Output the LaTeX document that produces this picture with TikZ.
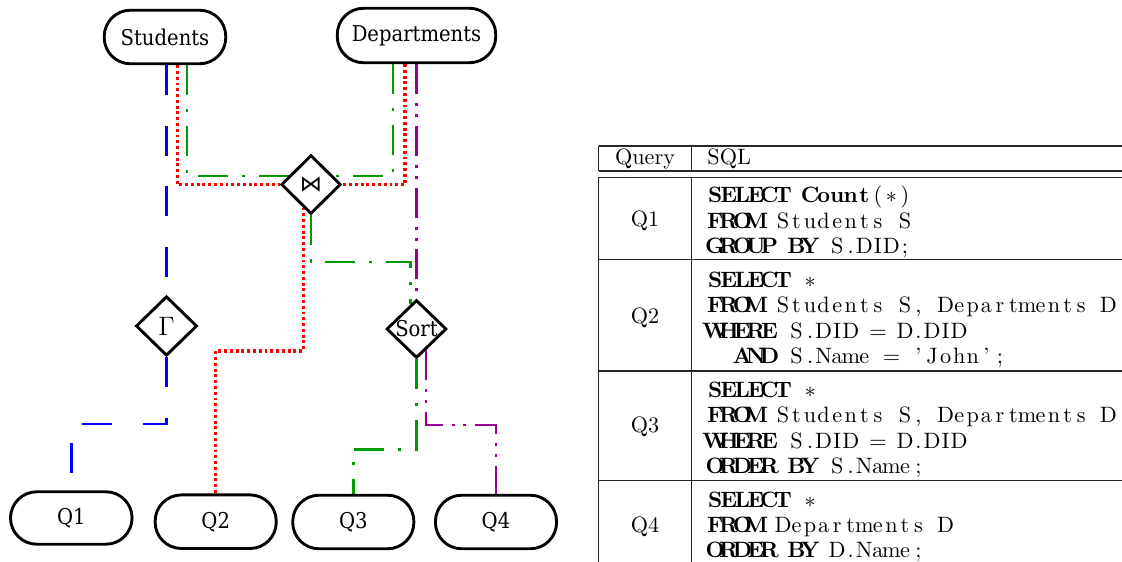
\documentclass[tikz,border=0pt]{standalone}
\usepackage{fontspec}
\newfontfamily\nodeserif{DejaVu Serif Condensed}
\newfontfamily\djsans{DejaVu Sans}
\usetikzlibrary{shapes.geometric,backgrounds}
\definecolor{jgreen}{RGB}{0,155,0}
\definecolor{jpurple}{RGB}{150,0,150}

% fixed-column code setting: every character sits centred in a box of width \cw
\newlength\cw
\setlength\cw{6.1pt}
\makeatletter
\def\fx@end{\fx@end}
\newcommand\fx[1]{\fx@loop#1\fx@end}
\def\fx@loop#1{\ifx#1\fx@end\else\makebox[\cw][c]{#1}\expandafter\fx@loop\fi}
\makeatother
\newcommand\kw[1]{{\bfseries\fx{#1}}}
\newcommand\as{\ensuremath{\ast}}

\begin{document}
\begin{tikzpicture}[x=0.45pt,y=-0.45pt,
  relnode/.style={draw, line width=1.3pt, fill=white, rounded corners=11.8pt, inner sep=0pt,
    font=\nodeserif\fontsize{9.8}{12}\selectfont},
  opnode/.style={draw, diamond, aspect=1, line width=1.3pt, fill=white, inner sep=0pt},
  conn/.style={line width=1.3pt},
  qblue/.style={conn, blue, dash pattern=on 13.5pt off 13.7pt},
  qred/.style={conn, line width=1.4pt, red, dash pattern=on 1.3pt off 1.3pt},
  qgreen/.style={conn, jgreen, dash pattern=on 13.5pt off 6.3pt on 1.35pt off 6.3pt},
  qpurple/.style={conn, jpurple, dash pattern=on 13.5pt off 4pt on 1.35pt off 3.6pt on 1.35pt off 4pt},
  tabrule/.style={line width=0.6pt, black!85},
  code/.style={anchor=base west, inner sep=0pt, font=\fontsize{10}{12}\selectfont},
  cell/.style={anchor=base, inner sep=0pt, font=\fontsize{10}{12}\selectfont},
]
\useasboundingbox (0,0) rectangle (1122,562);
\clip (0,0) rectangle (1122,562);

% ---------- query plan ----------
\node[relnode, minimum width=54.7pt, minimum height=24.1pt] (students) at (165,37) {Students};
\node[relnode, minimum width=71.3pt, minimum height=24.5pt] (depts) at (416.5,35.5) {Departments};

\node[opnode, minimum width=26.8pt, minimum height=26.5pt] (join) at (311,184.5) {\djsans ⋈};
\node[opnode, minimum width=27.5pt, minimum height=26.8pt] (gamma) at (166.5,326) {\fontsize{13}{15}\selectfont$\Gamma$};
\node[opnode, minimum width=27pt, minimum height=26.1pt,
  label={[font=\nodeserif\fontsize{9.8}{12}\selectfont]center:Sort}] (sort) at (416.5,329) {};

\node[relnode, minimum width=54.7pt, minimum height=23.6pt] (q1) at (71.3,518) {Q1};
\node[relnode, minimum width=54.5pt, minimum height=24.1pt] (q2) at (215.7,521.7) {Q2};
\node[relnode, minimum width=54.5pt, minimum height=24.1pt] (q3) at (353.3,522) {Q3};
\node[relnode, minimum width=54.5pt, minimum height=24.1pt] (q4) at (496,522) {Q4};

% bend levels of the routed connectors
\coordinate (gs) at (0,262);
\coordinate (rq2) at (0,351);
\coordinate (bq1) at (0,424);
\coordinate (pq4) at (0,425);
\coordinate (gq3) at (0,449.3);

\begin{scope}[on background layer]
  % Q1: Students -> Gamma -> Q1
  \draw[qblue] (students.south -| gamma.north) -- (gamma.north);
  \draw[qblue] (gamma.south) |- (bq1 -| q1.north) -- (q1.north);
  % Q2: join -> Q2
  \draw[qred] ([xshift=5.5pt]students.south) |- (join.west);
  \draw[qred] ([xshift=-5.2pt]depts.south) |- (join.east);
  \draw[qred] (join.-109) |- (rq2 -| q2.north) -- (q2.north);
  % Q3: join -> sort -> Q3
  \draw[qgreen] ([xshift=9.9pt]students.south) |- ([yshift=3.8pt]join.center);
  \draw[qgreen] ([xshift=-10.6pt]depts.south) |- ([yshift=3.8pt]join.center);
  \draw[qgreen] (join.south) |- (gs -| sort.103) -- (sort.103);
  \draw[qgreen] (sort.south) |- (gq3 -| q3.north) -- (q3.north);
  % Q4: Departments -> sort -> Q4
  \draw[qpurple] (depts.south) -- (sort.north);
  \draw[qpurple] (sort.-66) |- (pq4 -| q4.north) -- (q4.north);
\end{scope}

% ---------- query table ----------
\draw[tabrule] (598.5,146) -- (1135,146);
\draw[tabrule] (598.5,171) -- (1135,171);
\draw[tabrule] (598.5,177.3) -- (1135,177.3);
\draw[tabrule] (598.5,259.5) -- (1135,259.5);
\draw[tabrule] (598.5,371) -- (1135,371);
\draw[tabrule] (598.5,480.5) -- (1135,480.5);
\draw[tabrule] (598.5,146) -- (598.5,171);
\draw[tabrule] (598.5,177.3) -- (598.5,570);
\draw[tabrule] (691.5,146) -- (691.5,171);
\draw[tabrule] (691.5,177.3) -- (691.5,570);

\node[cell] (hq) at (645,165) {Query};
\node[code] (hs) at (707,165) {SQL};

\node[cell] (r1) at (645,226.5) {Q1};
\node[code] (c11) at (708,203) {\kw{SELECT}\fx{~}\kw{Count}\fx{(\as)}};
\node[code] (c12) at (708,228.5) {\kw{FROM}\fx{~Students~S}};
\node[code] (c13) at (708,254) {\kw{GROUP}\fx{~}\kw{BY}\fx{~S.DID;}};

\node[cell] (r2) at (645,323.5) {Q2};
\node[code] (c21) at (708,287.5) {\kw{SELECT}\fx{~\as}};
\node[code] (c22) at (708,312.8) {\kw{FROM}\fx{~Students~S,~Departments~D}};
\node[code] (c23) at (708,338.1) {\kw{WHERE}\fx{~S.DID~=~D.DID}};
\node[code] (c24) at (708,363.4) {\fx{~~}\kw{AND}\fx{~S.Name~=~'John';}};

\node[cell] (r3) at (645,432.5) {Q3};
\node[code] (c31) at (708,397.5) {\kw{SELECT}\fx{~\as}};
\node[code] (c32) at (708,422.8) {\kw{FROM}\fx{~Students~S,~Departments~D}};
\node[code] (c33) at (708,448.1) {\kw{WHERE}\fx{~S.DID~=~D.DID}};
\node[code] (c34) at (708,473.4) {\kw{ORDER}\fx{~}\kw{BY}\fx{~S.Name;}};

\node[cell] (r4) at (645,532.5) {Q4};
\node[code] (c41) at (708,507) {\kw{SELECT}\fx{~\as}};
\node[code] (c42) at (708,532.3) {\kw{FROM}\fx{~Departments~D}};
\node[code] (c43) at (708,557.6) {\kw{ORDER}\fx{~}\kw{BY}\fx{~D.Name;}};
\end{tikzpicture}
\end{document}
